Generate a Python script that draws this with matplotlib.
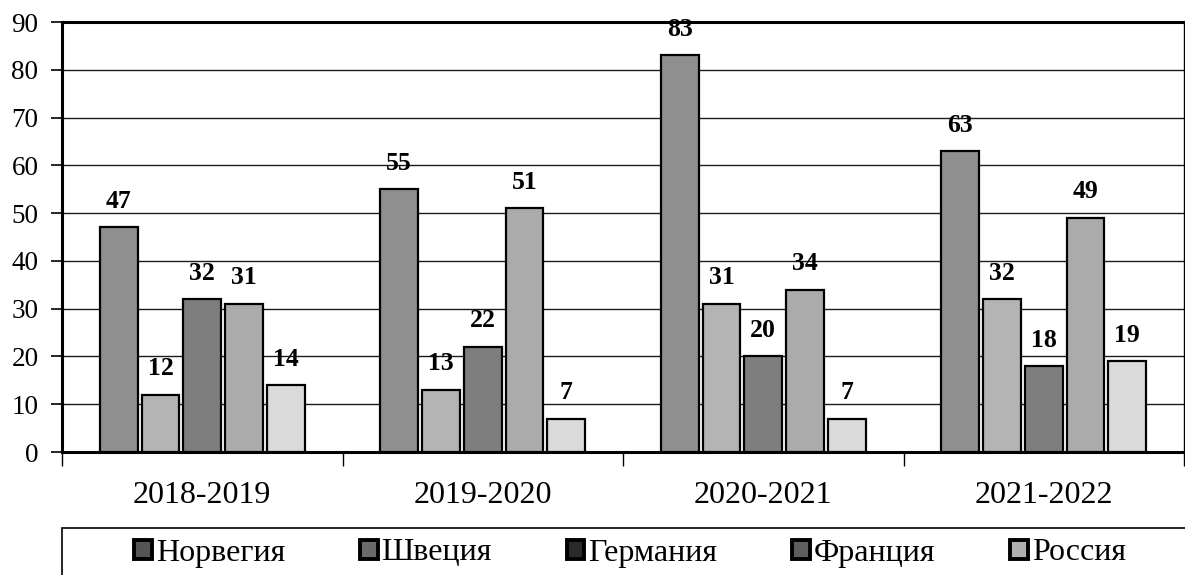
import numpy as np
import matplotlib.pyplot as plt
from matplotlib.patches import Patch, Rectangle

plt.rcParams['font.family'] = ['Liberation Serif', 'DejaVu Serif']

seasons = ['2018-2019', '2019-2020', '2020-2021', '2021-2022']
countries = ['Норвегия', 'Швеция', 'Германия', 'Франция', 'Россия']
norway = [47, 55, 83, 63]
sweden = [12, 13, 31, 32]
germany = [32, 22, 20, 18]
france = [31, 51, 34, 49]
russia = [14, 7, 7, 19]
series = [norway, sweden, germany, france, russia]
colors = ['#8f8f8f', '#b4b4b4', '#7e7e7e', '#ababab', '#dadada']
# the small legend squares print darker than the bars in the scan
legend_colors = ['#555555', '#6a6a6a', '#2a2a2a', '#5e5e5e', '#b0b0b0']

fig = plt.figure(figsize=(11.85, 5.75), dpi=100)
ax = fig.add_axes([62 / 1185, 1 - 452 / 575, 1122 / 1185, 430 / 575])

x = np.arange(len(seasons))
step = 0.149
width = 0.135
for i, (vals, col) in enumerate(zip(series, colors)):
    pos = x + (i - 2) * step
    bars = ax.bar(pos, vals, width, color=col, edgecolor='black',
                  linewidth=1.6, zorder=3, label=countries[i])
    for b, v in zip(bars, vals):
        ax.annotate(str(v), (b.get_x() + b.get_width() / 2, v),
                    xytext=(0, 14), textcoords='offset points',
                    ha='center', va='baseline', fontsize=18.5,
                    fontweight='bold', zorder=4)

ax.set_xlim(-0.5, 3.5)
ax.set_ylim(0, 90)
ax.set_yticks(range(0, 91, 10))
ax.yaxis.grid(True, color='#1a1a1a', linewidth=1.0, zorder=0)
ax.set_axisbelow(True)

ax.set_xticks(x)
ax.set_xticklabels(seasons, fontsize=23)
ax.tick_params(axis='x', which='major', length=0, pad=21)
ax.set_xticks(np.arange(-0.5, 3.6, 1), minor=True)
ax.tick_params(axis='x', which='minor', length=10, width=1.0)
ax.tick_params(axis='y', labelsize=19.5, length=8, width=1.2, pad=9)

for side in ['left', 'bottom', 'top']:
    ax.spines[side].set_linewidth(2.2)
ax.spines['right'].set_linewidth(1.0)

# legend box, cut off at the bottom like the scan
fig.add_artist(Rectangle((62 / 1185, -0.05), 1130 / 1185, 0.05 + 1 - 528 / 575,
                         transform=fig.transFigure, facecolor='none',
                         edgecolor='black', linewidth=1.2))
handles = [Patch(facecolor=c, edgecolor='black', linewidth=2.8) for c in legend_colors]
leg = fig.legend(handles, countries, loc='center', ncol=5,
                 bbox_to_anchor=(630 / 1185, 1 - 553 / 575),
                 fontsize=23, frameon=False,
                 handlelength=0.55, handleheight=0.55, handletextpad=0.12,
                 columnspacing=2.35, borderaxespad=0, borderpad=0)

fig.savefig('out.png', dpi=100)
